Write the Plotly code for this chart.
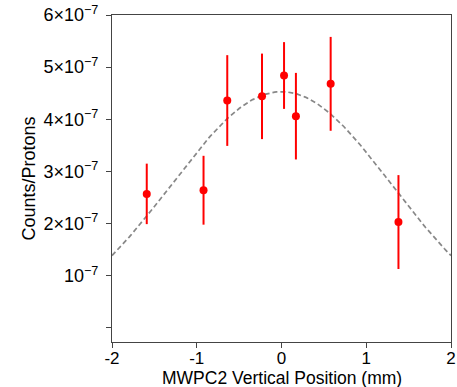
import numpy as np
import plotly.graph_objects as go

# Measured points
pos_mm = [-1.59, -0.92, -0.64, -0.23, 0.03, 0.17, 0.58, 1.38]
counts = [2.57e-7, 2.64e-7, 4.36e-7, 4.44e-7, 4.84e-7, 4.06e-7, 4.68e-7, 2.03e-7]
errors = [0.58e-7, 0.66e-7, 0.87e-7, 0.82e-7, 0.64e-7, 0.83e-7, 0.90e-7, 0.90e-7]

# Gaussian fit parameters
fit_amp = 4.53e-7
fit_mean = 0.0
fit_sigma = 1.30

y_tickvals = [0, 1e-7, 2e-7, 3e-7, 4e-7, 5e-7, 6e-7]
y_ticktext = ["", "10<sup>\u22127</sup>", "2\u00d710<sup>\u22127</sup>", "3\u00d710<sup>\u22127</sup>",
              "4\u00d710<sup>\u22127</sup>", "5\u00d710<sup>\u22127</sup>", "6\u00d710<sup>\u22127</sup>"]
x_tickvals = [-2, -1, 0, 1, 2]
x_ticktext = ["-2", "-1", "0", "1", "2"]
x_title = "MWPC2 Vertical Position (mm)"
y_title = "Counts/Protons"

xf = np.linspace(-2, 2, 201)
yf = fit_amp * np.exp(-(xf - fit_mean) ** 2 / (2 * fit_sigma ** 2))

fig = go.Figure()
fig.add_trace(go.Scatter(x=xf, y=yf, mode="lines",
                         line=dict(color="#888888", width=1.7, dash="5px,3px"),
                         hoverinfo="skip", showlegend=False))
fig.add_trace(go.Scatter(x=pos_mm, y=counts, mode="markers",
                         marker=dict(color="#ff0000", size=8),
                         error_y=dict(type="data", array=errors, color="#ff0000",
                                      thickness=2, width=0),
                         showlegend=False))

axis_common = dict(showline=True, linecolor="#444444", linewidth=1.2, mirror=True,
                   ticks="outside", ticklen=5, tickcolor="#444444",
                   showgrid=False, zeroline=False, automargin=False)

fig.update_layout(
    width=457, height=387,
    margin=dict(l=112, r=6, t=15, b=45),
    paper_bgcolor="white", plot_bgcolor="white",
    font=dict(family="Liberation Sans, Arial", color="black"),
    xaxis=dict(range=[-2, 2], tickmode="array", tickvals=x_tickvals, ticktext=x_ticktext,
               tickfont=dict(size=17, color="black"), ticklabelstandoff=-5,
               **axis_common),
    yaxis=dict(range=[-0.27e-7, 6e-7], tickmode="array", tickvals=y_tickvals, ticktext=y_ticktext,
               tickfont=dict(size=18, color="black"), ticklabelstandoff=4,
               title=dict(text=y_title, font=dict(size=18), standoff=3),
               **axis_common),
)
fig.add_annotation(text=x_title, xref="paper", yref="paper", x=0.5, y=-25.3 / 327,
                   xanchor="center", yanchor="top", showarrow=False, borderpad=0,
                   font=dict(size=17.5, color="black"))

fig.write_html("out.html")
